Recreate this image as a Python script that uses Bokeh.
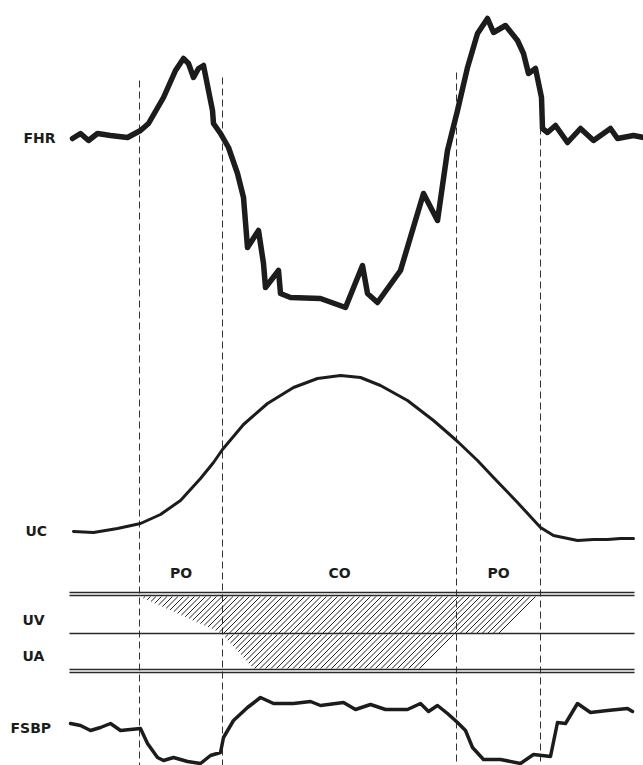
import numpy as np
from bokeh.plotting import figure
from bokeh.models import Range1d
from bokeh.core.properties import value
from bokeh.embed import file_html
from bokeh.resources import INLINE

# ---- data (in drawing units) ----
fhr_x = [72, 80, 88, 97, 110, 127, 140, 148, 163, 175, 183, 188, 193, 198, 203, 208, 212, 213, 220, 228, 237,
         243, 247, 258, 263, 265, 278, 280, 290, 320, 345, 362, 367, 377, 400, 423, 437, 447, 457, 467, 477,
         487, 493, 505, 517, 523, 528, 535, 541, 542, 547, 555, 567, 580, 593, 610, 617, 633, 643]
fhr_y = [138, 133, 140, 133, 135, 137, 130, 123, 97, 70, 58, 63, 77, 68, 65, 90, 110, 123, 133, 147, 173,
         197, 247, 230, 263, 287, 270, 293, 297, 298, 307, 265, 293, 302, 270, 193, 220, 150, 110, 67, 33,
         18, 32, 25, 40, 53, 73, 68, 97, 128, 132, 125, 142, 128, 140, 128, 138, 135, 137]

uc_x = [73, 93, 117, 140, 160, 180, 200, 213, 222, 243, 267, 293, 317, 340, 360, 380, 407, 433, 456,
        477, 493, 517, 540, 553, 577, 593, 607, 620, 633]
uc_y = [531, 532, 528, 523, 514, 500, 478, 462, 449, 424, 403, 387, 378, 375, 377, 385, 400, 420, 440,
        460, 477, 502, 527, 535, 540, 539, 539, 538, 538]

fsbp_x = [70, 80, 90, 100, 110, 120, 130, 140, 147, 157, 163, 173, 187, 200, 210, 220, 223, 233, 247, 260,
          273, 293, 310, 320, 343, 355, 370, 385, 407, 420, 428, 437, 447, 457, 465, 472, 483, 500, 520,
          533, 550, 557, 565, 577, 590, 607, 627, 632]
fsbp_y = [723, 725, 730, 727, 723, 730, 729, 728, 743, 757, 760, 757, 761, 763, 755, 752, 737, 720, 707, 697,
          703, 703, 701, 705, 702, 709, 704, 709, 709, 703, 711, 705, 713, 722, 730, 747, 759, 759, 763,
          754, 756, 722, 723, 703, 712, 710, 708, 711]

phase_x = [139, 222, 456, 540]          # phase boundaries
phase_top = [80, 77, 72, 127]           # where each dashed boundary starts
phase_names = ["PO", "CO", "PO"]

row_labels = ["FHR", "UC", "UV", "UA", "FSBP"]
row_label_x = [23, 25, 22, 22, 10]
row_label_y = [137, 530, 619, 655, 727]

band_y = [592, 595, 633, 669, 672]      # horizontal rules of the vessel bands
band_x0, band_x1 = 69, 634

# hatched occlusion areas: corners (top-left, top-right, bottom-right, bottom-left)
uv_occl_x = [139, 540, 500, 222]
uv_occl_y = [596, 596, 633, 633]
ua_occl_x = [222, 456, 420, 253]
ua_occl_y = [634, 634, 668, 668]
hatch_step = 5.5

ink = "#1c1c1c"

W, H = 643, 765
p = figure(width=W, height=H, output_backend="svg", toolbar_location=None,
           x_range=Range1d(0, W), y_range=Range1d(H, 0), min_border=0)
p.axis.visible = False
p.grid.visible = False
p.outline_line_color = None
p.background_fill_color = "white"
p.border_fill_color = "white"

# dashed phase boundaries
p.segment(x0=phase_x, y0=phase_top, x1=phase_x, y1=[H] * 4, line_color="#333333",
          line_width=1, line_dash="7 4")

# horizontal band rules
p.segment(x0=[band_x0] * len(band_y), y0=band_y, x1=[band_x1] * len(band_y), y1=band_y,
          line_color="#2a2a2a", line_width=1.3)


def hatch_segments(xs, ys, step):
    """'/' hatch lines clipped to a trapezoid given by 4 corners."""
    yt, yb = ys[0], ys[2]
    yy = np.linspace(yt, yb, 400)
    f = (yy - yt) / (yb - yt)
    xl = xs[0] + (xs[3] - xs[0]) * f
    xr = xs[1] + (xs[2] - xs[1]) * f
    x0s, y0s, x1s, y1s = [], [], [], []
    c = min(xs) - (yb - yt)
    while c < max(xs) + 1:
        xline = c + (yb - yy)
        inside = (xline >= xl) & (xline <= xr)
        if inside.any():
            idx = np.where(inside)[0]
            i0, i1 = idx[0], idx[-1]
            x0s.append(xline[i0]); y0s.append(yy[i0])
            x1s.append(xline[i1]); y1s.append(yy[i1])
        c += step
    return x0s, y0s, x1s, y1s


for xs, ys in ((uv_occl_x, uv_occl_y), (ua_occl_x, ua_occl_y)):
    a, b, c2, d = hatch_segments(xs, ys, hatch_step)
    p.segment(x0=a, y0=b, x1=c2, y1=d, line_color="#222222", line_width=1)

# curves
p.line(fhr_x, fhr_y, line_color=ink, line_width=5.5, line_join="round", line_cap="round")
p.line(uc_x, uc_y, line_color=ink, line_width=3, line_join="round", line_cap="round")
p.line(fsbp_x, fsbp_y, line_color=ink, line_width=3.5, line_join="round", line_cap="round")

# labels
p.text(x=row_label_x, y=row_label_y, text=row_labels, text_font=value("DejaVu Sans"),
       text_font_style="bold", text_font_size="14px", text_baseline="middle", text_align="left",
       text_color=ink)
phase_cx = [(phase_x[i] + phase_x[i + 1]) / 2 for i in range(3)]
p.text(x=phase_cx, y=[572] * 3, text=phase_names, text_font=value("DejaVu Sans"),
       text_font_style="bold", text_font_size="14px", text_baseline="middle", text_align="center",
       text_color=ink)

open("out.html", "w").write(file_html(p, INLINE))
